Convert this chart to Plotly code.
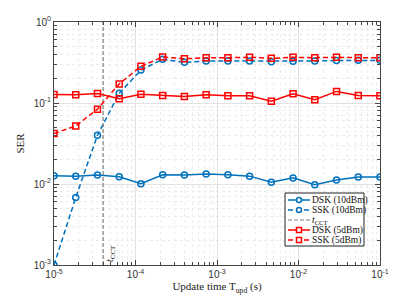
import numpy as np
import plotly.graph_objects as go

# Data
t_upd = list(np.logspace(-5, -1, 16))
dsk_10 = [0.0126, 0.0125, 0.0129, 0.0123, 0.0101, 0.0130, 0.0129, 0.0133, 0.0130, 0.0125,
          0.0105, 0.0119, 0.0098, 0.0112, 0.0122, 0.0122]
ssk_10 = [0.0010, 0.0068, 0.040, 0.132, 0.255, 0.346, 0.318, 0.330, 0.330, 0.330,
          0.324, 0.328, 0.330, 0.334, 0.338, 0.336]
dsk_5 = [0.127, 0.126, 0.131, 0.113, 0.128, 0.124, 0.120, 0.126, 0.123, 0.123,
         0.105, 0.130, 0.110, 0.139, 0.124, 0.123]
ssk_5 = [0.042, 0.052, 0.084, 0.172, 0.284, 0.370, 0.352, 0.362, 0.362, 0.367,
         0.356, 0.367, 0.362, 0.367, 0.362, 0.362]
t_cct = 4e-5
x_ticks = [1e-5, 1e-4, 1e-3, 1e-2, 1e-1]
x_tick_text = ["10<sup>-5</sup>", "10<sup>-4</sup>", "10<sup>-3</sup>", "10<sup>-2</sup>", "10<sup>-1</sup>"]
y_ticks = [1e-3, 1e-2, 1e-1, 1]
y_tick_text = ["10<sup>-3</sup>", "10<sup>-2</sup>", "10<sup>-1</sup>", "10<sup>0</sup>"]
legend_names = ["DSK (10dBm)", "SSK (10dBm)", "<i>t</i><sub>CCT</sub>", "DSK (5dBm)", "SSK (5dBm)"]

BLUE = "#0072BD"
RED = "#FF0000"
GRAY = "#808080"
SERIF = "Liberation Serif"
SANS = "Liberation Sans"
DASH = "5px,3px"
GDASH = "4px,2px"

W, H = 420, 298
ML, MR, MT, MB = 54, 40, 22, 33
PW, PH = W - ML - MR, H - MT - MB

fig = go.Figure()
styles = [
    dict(color=BLUE, dash="solid", symbol="circle-open"),
    dict(color=BLUE, dash=DASH, symbol="circle-open"),
    dict(color=GRAY, dash=GDASH, symbol=None),
    dict(color=RED, dash="solid", symbol="square-open"),
    dict(color=RED, dash=DASH, symbol="square-open"),
]
series = [dsk_10, ssk_10, None, dsk_5, ssk_5]
for name, st, ys in zip(legend_names, styles, series):
    if ys is None:
        fig.add_trace(go.Scatter(x=[t_cct, t_cct], y=[1e-3, 1], name=name, mode="lines",
                                 line=dict(color=GRAY, width=1.2, dash=GDASH), showlegend=False))
    else:
        fig.add_trace(go.Scatter(x=t_upd, y=ys, name=name, mode="lines+markers",
                                 line=dict(color=st["color"], width=1.5, dash=st["dash"]),
                                 marker=dict(symbol=st["symbol"], size=6, color=st["color"],
                                             line=dict(width=1.5)),
                                 showlegend=False))

fig.add_annotation(x=np.log10(t_cct), y=-3, xref="x", yref="y", text="<i>t</i><sub>CCT</sub>",
                   textangle=-90, showarrow=False, xanchor="left", yanchor="bottom",
                   xshift=-1, yshift=1, font=dict(family=SERIF, size=10, color="#222"))

# compact legend box (MATLAB style)
def px(x):
    return (x - ML) / PW

def py(y):
    return (H - MB - y) / PH

lx0, lx1, ly0, ly1 = 285, 364, 193, 246
fig.add_shape(type="rect", xref="paper", yref="paper", x0=px(lx0), x1=px(lx1), y0=py(ly1), y1=py(ly0),
              line=dict(color="#222", width=1), fillcolor="white", layer="above")
for i, (name, st) in enumerate(zip(legend_names, styles)):
    yy = 200 + 10 * i
    fig.add_shape(type="line", xref="paper", yref="paper", x0=px(288), x1=px(310), y0=py(yy), y1=py(yy),
                  line=dict(color=st["color"], width=1.5 if st["symbol"] else 1.2, dash=st["dash"]),
                  layer="above")
    if st["symbol"] == "circle-open":
        fig.add_shape(type="circle", xref="paper", yref="paper", x0=px(296.5), x1=px(301.5),
                      y0=py(yy + 2.5), y1=py(yy - 2.5), line=dict(color=st["color"], width=1.5),
                      fillcolor="white", layer="above")
    elif st["symbol"] == "square-open":
        fig.add_shape(type="rect", xref="paper", yref="paper", x0=px(296.5), x1=px(301.5),
                      y0=py(yy + 2.5), y1=py(yy - 2.5), line=dict(color=st["color"], width=1.5),
                      fillcolor="white", layer="above")
    fig.add_annotation(x=px(311), y=py(yy), xref="paper", yref="paper", text=name, showarrow=False,
                       xanchor="left", yanchor="middle", borderpad=0,
                       font=dict(family=SERIF, size=9.5, color="#111"))

minor = dict(ticks="inside", ticklen=3, tickcolor="#444", showgrid=True,
             gridcolor="#ececec", griddash="dot", gridwidth=1, dtick="D1")
axis_common = dict(type="log", showline=True, linecolor="#444", linewidth=1, mirror="ticks",
                   ticks="inside", ticklen=5, tickcolor="#444", showgrid=True,
                   gridcolor="#e2e2e2", gridwidth=1, zeroline=False, automargin=False,
                   tickfont=dict(family=SANS, size=10, color="#333"), minor=minor)

fig.update_xaxes(range=[-5, -1], tickvals=x_ticks, ticktext=x_tick_text,
                 title=dict(text="Update time T<sub>upd</sub> (s)", font=dict(family=SERIF, size=11, color="#222"),
                            standoff=3), **axis_common)
fig.update_yaxes(range=[-3, 0], tickvals=y_ticks, ticktext=y_tick_text,
                 title=dict(text="SER", font=dict(family=SERIF, size=11, color="#222"), standoff=6),
                 **axis_common)

fig.update_layout(
    width=W, height=H, margin=dict(l=ML, r=MR, t=MT, b=MB),
    paper_bgcolor="white", plot_bgcolor="white", showlegend=False,
)

fig.write_html("out.html", config={"displayModeBar": False},
               post_script="document.body.style.margin='0px';")
